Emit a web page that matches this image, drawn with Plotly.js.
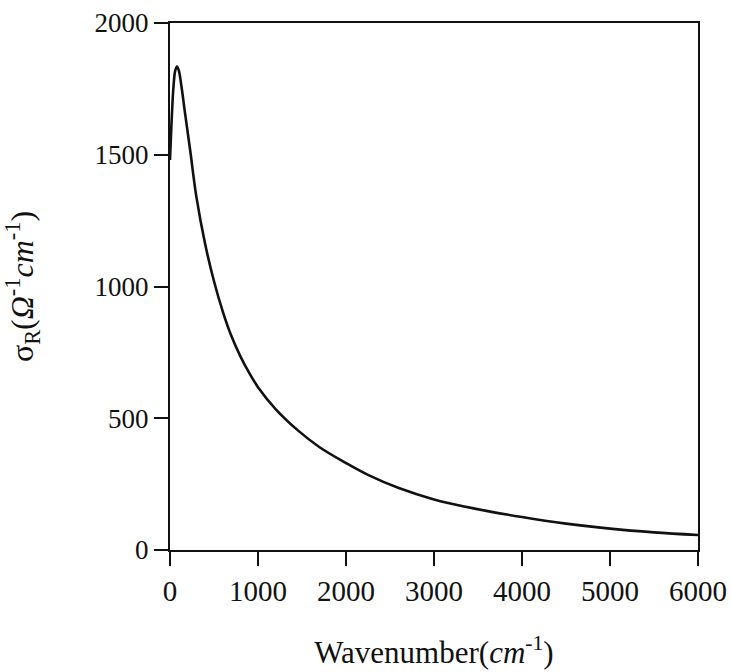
<!DOCTYPE html>
<html>
<head>
<meta charset="utf-8">
<script src="https://cdn.plot.ly/plotly-3.0.1.min.js"></script>
<style>html,body{margin:0;padding:0;background:#fff;}#chart{width:731px;height:672px;}</style>
</head>
<body>
<div id="chart"></div>
<script>
const wavenumber = [0, 20, 40, 60, 80, 100, 130, 170, 230, 300, 400, 500, 600, 700, 800, 900, 1000, 1200, 1450, 1700, 2000, 2250, 2600, 3000, 3450, 4000, 4500, 5000, 5500, 6000];
const sigmaR = [1480, 1640, 1760, 1820, 1835, 1820, 1760, 1660, 1515, 1340, 1160, 1020, 905, 810, 735, 672, 618, 535, 455, 390, 330, 285, 235, 192, 158, 125, 100, 81, 67, 57];
const xTicks = [0, 1000, 2000, 3000, 4000, 5000, 6000];
const yTicks = [0, 500, 1000, 1500, 2000];

const font = {family: "Liberation Serif, Times New Roman, serif", color: "#111"};

Plotly.newPlot("chart", [{
  x: wavenumber, y: sigmaR, type: "scatter", mode: "lines",
  line: {color: "#111", width: 2.6, shape: "spline", smoothing: 1},
  hoverinfo: "skip"
}], {
  width: 731, height: 672,
  margin: {l: 170, r: 33, t: 23, b: 122},
  paper_bgcolor: "#fff", plot_bgcolor: "#fff",
  showlegend: false,
  font: Object.assign({size: 27}, font),
  xaxis: {
    range: [0, 6000], tickvals: xTicks, ticktext: xTicks.map(String),
    showgrid: false, zeroline: false, showline: true, mirror: true,
    linecolor: "#111", linewidth: 2,
    ticks: "outside", ticklen: 14, tickwidth: 2, tickcolor: "#111",
    tickfont: Object.assign({size: 29}, font),
    title: {text: "Wavenumber(<i>cm</i><sup>-1</sup>)", font: Object.assign({size: 31}, font), standoff: 36}
  },
  yaxis: {
    range: [0, 2000], tickvals: yTicks, ticktext: yTicks.map(String),
    showgrid: false, zeroline: false, showline: true, mirror: true,
    linecolor: "#111", linewidth: 2,
    ticks: "outside", ticklen: 14, tickwidth: 2, tickcolor: "#111",
    tickfont: Object.assign({size: 27}, font),
    title: {text: "σ<sub>R</sub>(<i>Ω</i><sup>-1</sup><i>cm</i><sup>-1</sup>)", font: Object.assign({size: 32}, font), standoff: 60}
  }
}, {staticPlot: true});
</script>
</body>
</html>
